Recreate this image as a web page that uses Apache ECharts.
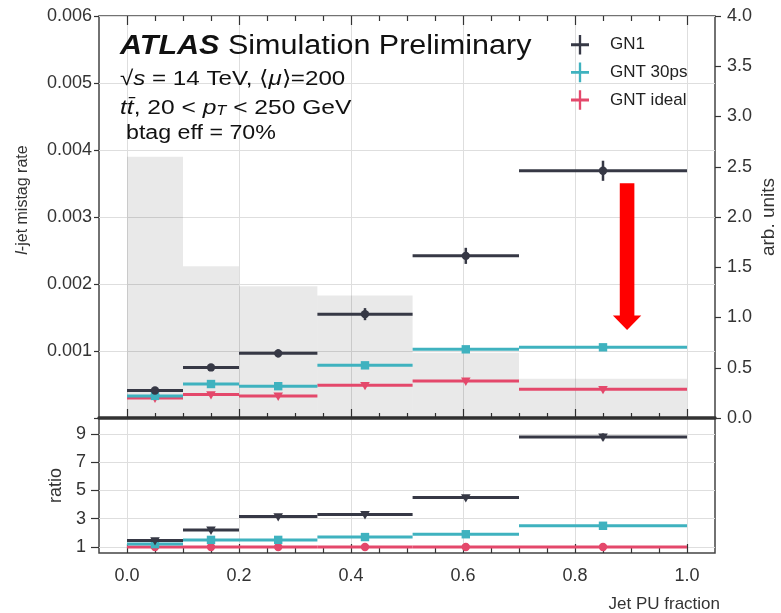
<!DOCTYPE html>
<html><head><meta charset="utf-8">
<script src="https://cdn.jsdelivr.net/npm/echarts@6/dist/echarts.min.js"></script>
<style>html,body{margin:0;padding:0;background:#fff}#c{width:781px;height:613px}</style>
</head><body><div id="c"></div>
<script>
// ---------------- data ----------------
const binLo = [0.0, 0.1, 0.2, 0.34, 0.51, 0.7];
const binHi = [0.1, 0.2, 0.34, 0.51, 0.7, 1.0];
const binCenter = [0.05, 0.15, 0.27, 0.425, 0.605, 0.85];
const seriesNames = ['GN1', 'GNT 30ps', 'GNT ideal'];

const gn1Rate      = [0.00041, 0.000755, 0.000965, 0.00155, 0.00242, 0.00369];
const gn1Err       = [0.00004, 0.000045, 0.00006, 0.00009, 0.00012, 0.00015];
const gnt30Rate    = [0.00033, 0.000507, 0.000475, 0.000786, 0.001025, 0.001055];
const gnt30Err     = [0.00002, 0.00002, 0.00002, 0.00003, 0.00003, 0.00003];
const gntIdealRate = [0.0003, 0.00035, 0.00033, 0.000488, 0.000552, 0.000428];
const gntIdealErr  = [0.00002, 0.00002, 0.00002, 0.00002, 0.00003, 0.00002];

const puFractionHist = [2.6, 1.51, 1.31, 1.22, 0.65, 0.39];

const ratioGn1      = [1.45, 2.2, 3.15, 3.3, 4.5, 8.8];
const ratioGn1Err   = [0.08, 0.1, 0.12, 0.12, 0.15, 0.25];
const ratioGnt30    = [1.2, 1.5, 1.5, 1.7, 1.9, 2.5];
const ratioGnt30Err = [0.05, 0.05, 0.05, 0.06, 0.06, 0.08];
const ratioIdeal    = [1, 1, 1, 1, 1, 1];
const ratioIdealErr = [0.03, 0.03, 0.03, 0.03, 0.03, 0.03];

const xMajorTicks = [0, 0.2, 0.4, 0.6, 0.8, 1.0];
const xMinorTicks = [0.05, 0.1, 0.15, 0.25, 0.3, 0.35, 0.45, 0.5, 0.55, 0.65, 0.7, 0.75, 0.85, 0.9, 0.95];
const ratioTicks = [1, 3, 5, 7, 9];

// annotation arrow (data coords: x, right-axis top, right-axis tip)
const arrowX = 0.893, arrowTop = 2.335, arrowTip = 0.876;

// ---------------- style ----------------
const COL = { 'GN1': '#363845', 'GNT 30ps': '#3fb2bf', 'GNT ideal': '#e4486b' };
const FONT = 'Liberation Sans';
const AX = '#333';
const GRIDC = '#dedede';

function rows(vals, errs) {
  return binLo.map((lo, i) => [lo, binHi[i], binCenter[i], vals[i], errs[i]]);
}

function makeRender(marker, color) {
  return function (params, api) {
    const lo = api.value(0), hi = api.value(1), c = api.value(2), v = api.value(3), e = api.value(4);
    const a = api.coord([lo, v]), b = api.coord([hi, v]), m = api.coord([c, v]);
    const t = api.coord([c, v + e]), d = api.coord([c, v - e]);
    const s = 4.2;
    let mk;
    if (marker === 'circle') mk = { type: 'circle', shape: { cx: m[0], cy: m[1], r: s }, style: { fill: color } };
    else if (marker === 'square') mk = { type: 'rect', shape: { x: m[0] - s, y: m[1] - s, width: 2 * s, height: 2 * s }, style: { fill: color } };
    else mk = { type: 'polygon', shape: { points: [[m[0] - s - 0.6, m[1] - s + 0.8], [m[0] + s + 0.6, m[1] - s + 0.8], [m[0], m[1] + s + 0.8]] }, style: { fill: color } };
    return {
      type: 'group', children: [
        { type: 'line', shape: { x1: a[0], y1: a[1], x2: b[0], y2: b[1] }, style: { stroke: color, lineWidth: 3 } },
        { type: 'line', shape: { x1: t[0], y1: t[1], x2: d[0], y2: d[1] }, style: { stroke: color, lineWidth: 2.5 } },
        mk
      ]
    };
  };
}

function renderHist(params, api) {
  const p0 = api.coord([api.value(0), 0]);
  const p1 = api.coord([api.value(1), api.value(2)]);
  return { type: 'rect', shape: { x: p0[0], y: p1[1], width: p1[0] - p0[0], height: p0[1] - p1[1] }, style: { fill: 'rgba(0,0,0,0.085)' } };
}

const mainRect = { left: 99, top: 16, width: 616, height: 402, outerBoundsMode: 'none', containLabel: false };
const ratioRect = { left: 99, top: 418, width: 616, height: 135, outerBoundsMode: 'none', containLabel: false };

function xAx(grid, pos, ticks, len, extra) {
  return Object.assign({
    type: 'value', gridIndex: grid, position: pos, min: -0.05, max: 1.05,
    axisLine: { show: false, onZero: false },
    axisTick: { show: true, inside: true, length: len, customValues: ticks, lineStyle: { color: AX, width: 1.2 } },
    axisLabel: { show: false },
    splitLine: { show: false }
  }, extra || {});
}

const option = {
  animation: false,
  backgroundColor: '#fff',
  textStyle: { fontFamily: FONT },
  grid: [
    Object.assign({ show: true, borderColor: '#444', borderWidth: 1.5, backgroundColor: 'transparent' }, mainRect),
    Object.assign({ show: true, borderColor: '#444', borderWidth: 1.5, backgroundColor: 'transparent' }, ratioRect),
    Object.assign({ show: false }, mainRect),
    Object.assign({ show: false }, ratioRect)
  ],
  xAxis: [
    xAx(0, 'bottom', xMajorTicks, 9, {
      axisLine: { show: true, onZero: false, lineStyle: { color: '#333', width: 3.5 } },
      splitLine: { show: true, lineStyle: { color: GRIDC, width: 1 } }
    }),
    xAx(0, 'top', xMajorTicks, 9),
    xAx(2, 'bottom', xMinorTicks, 5),
    xAx(2, 'top', xMinorTicks, 5),
    xAx(1, 'bottom', xMajorTicks, 9, {
      axisLabel: { show: true, customValues: xMajorTicks, formatter: v => v.toFixed(1), fontSize: 18, color: '#333', margin: 14, fontFamily: FONT },
      splitLine: { show: true, lineStyle: { color: GRIDC, width: 1 } },
      name: 'Jet PU fraction', nameLocation: 'end', nameGap: 5,
      nameTextStyle: { fontSize: 17, color: '#333', align: 'right', verticalAlign: 'top', padding: [43, 0, 0, 0], fontFamily: FONT }
    }),
    xAx(3, 'bottom', xMinorTicks, 5)
  ],
  yAxis: [
    {
      type: 'value', gridIndex: 0, position: 'left', min: 0, max: 0.006, interval: 0.001,
      axisLine: { show: false, onZero: false },
      axisTick: { show: true, length: 5, lineStyle: { color: AX, width: 1.2 } },
      axisLabel: { fontSize: 18, color: '#333', margin: 7, formatter: v => v === 0 ? '' : v.toFixed(3), fontFamily: FONT },
      splitLine: { show: true, lineStyle: { color: GRIDC, width: 1 } },
      name: '{it|l}-jet mistag rate', nameLocation: 'middle', nameRotate: 90, nameGap: 68,
      nameTextStyle: { fontSize: 16, color: '#333', padding: [0, 0, 0, 34], fontFamily: FONT,
        rich: { it: { fontStyle: 'italic', fontSize: 16, color: '#333', fontFamily: FONT } } }
    },
    {
      type: 'value', gridIndex: 0, position: 'right', min: 0, max: 4, interval: 0.5,
      axisLine: { show: false, onZero: false },
      axisTick: { show: true, length: 6, lineStyle: { color: AX, width: 1.2 } },
      axisLabel: { fontSize: 18, color: '#333', margin: 12, formatter: v => v.toFixed(1), fontFamily: FONT },
      splitLine: { show: false },
      name: 'arb. units', nameLocation: 'middle', nameRotate: 90, nameGap: 44, nameMoveOverlap: false,
      nameTextStyle: { fontSize: 19, color: '#333', fontFamily: FONT }
    },
    {
      type: 'value', gridIndex: 1, position: 'left', min: 0.57, max: 10.14,
      axisLine: { show: false, onZero: false },
      axisTick: { show: true, length: 8, customValues: ratioTicks, lineStyle: { color: AX, width: 1.2 } },
      axisLabel: { fontSize: 18, color: '#333', margin: 13, customValues: ratioTicks, formatter: v => String(v), fontFamily: FONT },
      splitLine: { show: true, lineStyle: { color: GRIDC, width: 1 } },
      name: 'ratio', nameLocation: 'middle', nameRotate: 90, nameGap: 34,
      nameTextStyle: { fontSize: 18, color: '#333', fontFamily: FONT }
    },
    { type: 'value', gridIndex: 2, show: false, min: 0, max: 1, axisLine: { onZero: false } },
    { type: 'value', gridIndex: 3, show: false, min: 0, max: 1, axisLine: { onZero: false } }
  ],
  legend: {
    orient: 'vertical', left: 566, top: 30, itemWidth: 18, itemHeight: 20, itemGap: 8,
    icon: 'path://M8,0h2.4v20h-2.4z M0,8.5h18.4v3h-18.4z',
    textStyle: { fontSize: 17, color: '#222', padding: [0, 0, 0, 16], fontFamily: FONT },
    data: seriesNames.map(n => ({ name: n, itemStyle: { color: COL[n] } }))
  },
  series: [
    { type: 'custom', name: 'hist', xAxisIndex: 0, yAxisIndex: 1, z: 1, renderItem: renderHist,
      data: binLo.map((lo, i) => [lo, binHi[i], puFractionHist[i]]) },
    { type: 'custom', name: 'GN1', xAxisIndex: 0, yAxisIndex: 0, z: 5, itemStyle: { color: COL['GN1'] },
      renderItem: makeRender('circle', COL['GN1']), data: rows(gn1Rate, gn1Err) },
    { type: 'custom', name: 'GNT 30ps', xAxisIndex: 0, yAxisIndex: 0, z: 4, itemStyle: { color: COL['GNT 30ps'] },
      renderItem: makeRender('square', COL['GNT 30ps']), data: rows(gnt30Rate, gnt30Err) },
    { type: 'custom', name: 'GNT ideal', xAxisIndex: 0, yAxisIndex: 0, z: 3, itemStyle: { color: COL['GNT ideal'] },
      renderItem: makeRender('tri', COL['GNT ideal']), data: rows(gntIdealRate, gntIdealErr) },
    { type: 'custom', name: 'GN1', xAxisIndex: 4, yAxisIndex: 2, z: 5, itemStyle: { color: COL['GN1'] },
      renderItem: makeRender('tri', COL['GN1']), data: rows(ratioGn1, ratioGn1Err) },
    { type: 'custom', name: 'GNT 30ps', xAxisIndex: 4, yAxisIndex: 2, z: 4, itemStyle: { color: COL['GNT 30ps'] },
      renderItem: makeRender('square', COL['GNT 30ps']), data: rows(ratioGnt30, ratioGnt30Err) },
    { type: 'custom', name: 'GNT ideal', xAxisIndex: 4, yAxisIndex: 2, z: 3, itemStyle: { color: COL['GNT ideal'] },
      renderItem: makeRender('circle', COL['GNT ideal']), data: rows(ratioIdeal, ratioIdealErr) }
  ],
  graphic: [
    { type: 'text', x: 120, y: 47, z: 10, scaleX: 1.13, style: {
        text: '{b|ATLAS} Simulation Preliminary', fontSize: 27, fontFamily: FONT, fill: '#111', verticalAlign: 'middle',
        rich: { b: { fontWeight: 'bold', fontStyle: 'italic', fontSize: 27, fontFamily: FONT, fill: '#111' } } } },
    { type: 'text', x: 120, y: 79, z: 10, scaleX: 1.15, style: {
        text: '√{i|s} = 14 TeV, ⟨{i|μ}⟩=200', fontSize: 21, fontFamily: FONT, fill: '#111', verticalAlign: 'middle',
        rich: { i: { fontStyle: 'italic', fontSize: 21, fontFamily: FONT, fill: '#111' } } } },
    { type: 'text', x: 120, y: 108, z: 10, scaleX: 1.17, style: {
        text: '{i|tt\u0304}, 20 < {i|p}{sub|T} < 250 GeV', fontSize: 21, fontFamily: FONT, fill: '#111', verticalAlign: 'middle',
        rich: { i: { fontStyle: 'italic', fontSize: 21, fontFamily: FONT, fill: '#111' },
                sub: { fontStyle: 'italic', fontSize: 14, fontFamily: FONT, fill: '#111', verticalAlign: 'bottom' } } } },
    { type: 'text', x: 126, y: 133, z: 10, scaleX: 1.16, style: {
        text: 'btag eff = 70%', fontSize: 20, fontFamily: FONT, fill: '#111', verticalAlign: 'middle' } }
  ]
};

const chart = echarts.init(document.getElementById('c'), null, { renderer: 'canvas' });
chart.setOption(option);

// annotation arrow positioned through the chart's own scales
const pTop = chart.convertToPixel({ xAxisIndex: 0, yAxisIndex: 1 }, [arrowX, arrowTop]);
const pTip = chart.convertToPixel({ xAxisIndex: 0, yAxisIndex: 1 }, [arrowX, arrowTip]);
const cx = pTop[0], hw = 7.3, hh = 14.2, headLen = 14.5;
const base = pTip[1] - headLen;
option.graphic.push({
  type: 'polygon', z: 20,
  shape: { points: [[cx - hw, pTop[1]], [cx + hw, pTop[1]], [cx + hw, base], [cx + hh, base], [cx, pTip[1]], [cx - hh, base], [cx - hw, base]] },
  style: { fill: '#ff0000' }
});
chart.setOption({ graphic: option.graphic });
</script>
</body></html>
